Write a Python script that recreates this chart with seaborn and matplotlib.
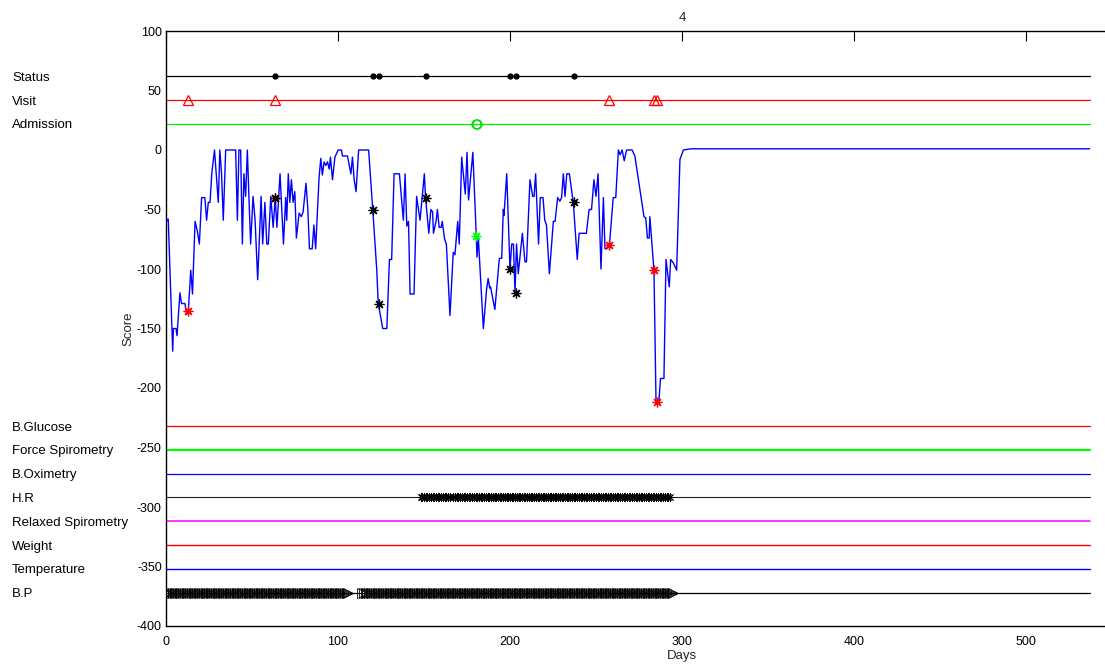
import numpy as np
import pandas as pd
import matplotlib
matplotlib.use("Agg")
import matplotlib.pyplot as plt
import seaborn as sns
from matplotlib.transforms import blended_transform_factory

# ---------------- data ----------------
score_days = [0.3, 1.3, 3.9, 4.3, 5.8, 6.4, 8.1, 9, 11, 12, 13, 14.4, 15.4, 16.9, 18.2, 19.4,
              20.7, 22.6, 23.6, 24.6, 25.6, 26.6, 28.2, 29.2, 30.4, 31.3, 32.3, 33.3, 34.7,
              40.5, 41.5, 42.4, 43.4, 44.4, 45.3, 46.3, 47.3, 48.2, 49.2, 50.6, 51.8, 53.3,
              55.3, 56.2, 57.5, 58.6, 59.5, 60.9, 62.3, 63.5, 64.5, 66.3, 68.3, 69.6, 70.2,
              71.1, 72, 72.9, 73.9, 74.9, 75.8, 77.4, 78.7, 79.7, 81.4, 82.4, 83.4, 85, 86,
              87, 89, 90, 90.9, 91.9, 92.9, 93.9, 94.9, 95.6, 96.8, 98.2, 100.1, 102, 102.6,
              105.5, 107.5, 108.4, 109.4, 110.5, 112, 117.8, 120.2, 122.5, 123.4, 126, 128.4,
              129.9, 131.2, 132.6, 135.7, 138, 139, 140, 141, 141.9, 144.2, 145.7, 147.7,
              150.2, 150.9, 152.8, 154, 155, 155.5, 157, 157.8, 158.8, 160, 160.6, 162, 163,
              165.1, 167, 168, 169.6, 170.5, 171.9, 174, 175, 175.9, 178.4, 180.4, 180.8,
              181.6, 184.5, 186.4, 187.3, 188.2, 188.7, 191.2, 193.8, 195.2, 196.1, 196.5,
              198.1, 200, 201, 202, 202.9, 203.8, 204.8, 207.2, 208.7, 209.6, 211.6, 213.2,
              214, 214.9, 216.6, 217.6, 219.2, 220.2, 221.2, 222.9, 225.2, 226.2, 227.7, 229,
              230, 231, 232, 233, 234.5, 236.8, 239.1, 240.2, 244.4, 246, 247.4, 248.8, 250,
              251.2, 252.9, 254.3, 255.2, 256.2, 257.8, 260, 261.5, 263, 264, 265.2, 266.4,
              267.8, 271, 272.6, 277.9, 278.9, 279.9, 280.9, 281.3, 283.7, 284.9, 286.5,
              287.5, 289.5, 290.7, 292.6, 293.4, 295, 296.9, 298.8, 300.8, 305, 537]
score_vals = [-60, -58, -169, -150, -150, -156, -120, -129, -129, -138, -135, -101, -121, -60,
              -68, -79, -40, -40, -59, -44, -44, -20, 0, -20, -44, 0, -20, -59, 0,
              0, -59, 0, 0, -79, -20, -39, 0, -39, -79, -39, -59, -109,
              -39, -79, -44, -79, -79, -39, -65, -40, -65, -20, -79, -40, -59,
              -20, -44, -25, -44, -35, -74, -53, -56, -52, -28, -48, -83, -83, -63,
              -83, -23, -7, -21, -10, -13, -10, -16, -6, -25, -6, 0, 0, -5,
              -5, -20, -6, -25, -35, 0, 0, -50, -100, -129, -150, -150,
              -92, -92, -20, -20, -59, -20, -64, -60, -121, -121, -39, -59,
              -20, -40, -70, -50, -52, -70, -60, -50, -65, -65, -60, -75, -79,
              -139, -86, -88, -60, -79, -6, -37, -2, -42, -2, -72, -90,
              -74, -150, -117, -108, -116, -115, -134, -91, -91, -50, -55,
              -20, -100, -79, -79, -120, -79, -104, -70, -94, -94, -25, -39,
              -39, -20, -79, -40, -40, -59, -63, -104, -60, -60, -40, -43,
              -40, -20, -39, -20, -20, -44, -92, -70, -70, -50, -50, -25, -39,
              -20, -100, -40, -83, -83, -80, -40, -40, 0, -4, 0, -9,
              0, 0, -5, -56, -57, -74, -74, -56, -101, -212, -212,
              -192, -192, -92, -115, -92, -95, -101, -8, 0, 1, 1]

status_days = [63.6, 120.5, 123.6, 151.3, 199.9, 203.3, 237.1]
status_scores = [-40, -50, -129, -40, -100, -120, -44]
visit_days = [13, 63.3, 257.8, 283.7, 285.5]
visit_scores = [-135, -40, -80, -101, -212]
admission_days = [180.3, 180.9]
admission_scores = [-72, -72]

hr_segments = [(148, 165), (167, 293)]
bp_segments = [(0, 44), (45, 106), (114, 295)]

row_labels = ["Status", "Visit", "Admission", "B.Glucose", "Force Spirometry", "B.Oximetry",
              "H.R", "Relaxed Spirometry", "Weight", "Temperature", "B.P"]
row_levels = [62, 42, 22, -232, -252, -272, -292, -312, -332, -352, -372]
row_colors = ["#000000", "#ff0000", "#00ee00", "#ff0000", "#00ff00", "#0000ff",
              "#202020", "#ff00ff", "#ff0000", "#0000ff", "#000000"]
row_widths = [0.9, 0.9, 0.9, 0.9, 1.6, 0.9, 0.8, 1.1, 1.0, 1.0, 0.9]
row_end_day = 537

x_ticks = [0, 100, 200, 300, 400, 500]
y_ticks = [-400, -350, -300, -250, -200, -150, -100, -50, 0, 50, 100]
title_text = "4"

# ---------------- style ----------------
sns.set_style("white")
plt.rcParams["font.family"] = ["Liberation Sans", "DejaVu Sans"]
plt.rcParams["axes.unicode_minus"] = False

fig = plt.figure(figsize=(11.05, 6.64), dpi=100)
W, H = 1105, 664
ax = fig.add_axes([166 / W, 38 / H, 1032 / W, 595 / H])
ax.set_xlim(0, 600)
ax.set_ylim(-400, 100)

# horizontal rows
lv = dict(zip(row_labels, row_levels))
for lab, lvl, col, lw in zip(row_labels, row_levels, row_colors, row_widths):
    ax.plot([0, row_end_day], [lvl, lvl], color=col, lw=lw, zorder=2)

# score line
df = pd.DataFrame({"Days": score_days, "Score": score_vals})
sns.lineplot(data=df, x="Days", y="Score", color="#0000ff", lw=1.0, sort=False,
             estimator=None, ax=ax, zorder=3)

ast = (8, 2, 0)
ax.plot(visit_days, visit_scores, ls="none", marker=ast, ms=7, mec="#ff0000", mew=0.9, zorder=4)
ax.plot(status_days, status_scores, ls="none", marker=ast, ms=7, mec="#000000", mew=0.9, zorder=5)
ax.plot(admission_days[:1], admission_scores[:1], ls="none", marker=ast, ms=7, mec="#00ff00",
        mew=0.9, zorder=5)

# row event markers
ax.plot(status_days, [lv["Status"]] * len(status_days), ls="none", marker="o", ms=3.5,
        mfc="black", mec="black", zorder=5)
ax.plot(visit_days, [lv["Visit"]] * len(visit_days), ls="none", marker="^", ms=7.5,
        mfc="none", mec="#ff0000", mew=0.9, zorder=5)
ax.plot(admission_days, [lv["Admission"]] * len(admission_days), ls="none", marker="o",
        ms=6.5, mfc="none", mec="#00dd00", mew=0.9, zorder=5)

for a, b in hr_segments:
    d = np.arange(a, b + 1)
    ax.plot(d, [lv["H.R"]] * len(d), ls="none", marker=ast, ms=6, mec="black", mew=0.6,
            zorder=5)
for a, b in bp_segments:
    d = np.arange(a, b + 1)
    ax.plot(d, [lv["B.P"]] * len(d), ls="none", marker=">", ms=7.5, mfc="none",
            mec="black", mew=0.6, zorder=5)

# row labels in left margin
tr = blended_transform_factory(fig.transFigure, ax.transData)
for lab, lvl in zip(row_labels, row_levels):
    ax.text(12 / W, lvl, lab, transform=tr, ha="left", va="center_baseline", fontsize=9.5,
            color="black", clip_on=False)

# axes styling
ax.set_xticks(x_ticks)
ax.set_yticks(y_ticks)
ax.tick_params(direction="in", length=7, width=0.8, top=True, right=True,
               labelsize=9, colors="black")
ax.tick_params(axis="x", pad=7)
ax.tick_params(axis="y", pad=3)
for s in ax.spines.values():
    s.set_color("black")
    s.set_linewidth(1.0)
ax.set_xlabel("Days", fontsize=9.5, labelpad=2)
ax.set_ylabel("Score", fontsize=9.5, labelpad=2)
ax.set_title(title_text, fontsize=9.5, pad=7)
ax.grid(False)

fig.savefig("out.png", dpi=100)
